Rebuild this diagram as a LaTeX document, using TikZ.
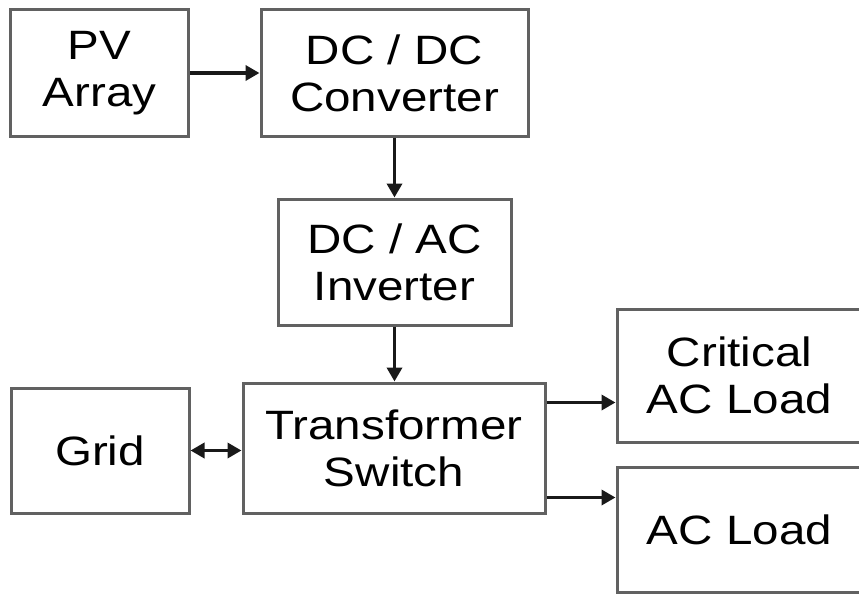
\documentclass[tikz,border=0pt]{standalone}
\usepackage{fontspec}
\setmainfont[FakeStretch=1.16]{Liberation Sans}
\usetikzlibrary{arrows.meta}
\begin{document}
\begin{tikzpicture}[x=1pt,y=-1pt,
  blk/.style={draw=black!62,line width=3pt,fill=white,inner sep=0pt,align=center,
    font=\fontsize{41}{47}\selectfont},
  arr/.style={draw=black!90,line width=3.5pt,-{Triangle[length=14pt,width=15pt]}},
  darr/.style={draw=black!90,line width=3.5pt,{Triangle[length=14pt,width=15pt]}-{Triangle[length=14pt,width=15pt]}}]
\useasboundingbox (0,0) rectangle (859,594);
\node[blk,minimum width=178pt,minimum height=126pt] (pv) at (99.5,73) {PV\\Array};
\node[blk,minimum width=267pt,minimum height=126pt] (dcdc) at (394.5,73) {DC / DC\\Converter};
\node[blk,minimum width=233pt,minimum height=126pt] (inv) at (394.5,262) {DC / AC\\Inverter};
\node[blk,minimum width=302pt,minimum height=130pt] (trans) at (394,448) {Transformer\\Switch};
\node[blk,minimum width=178pt,minimum height=125pt] (grid) at (100,450.5) {Grid};
\node[blk,minimum width=245pt,minimum height=133pt,text width=245pt] (crit) at (739.5,375.5) {Critical\\AC Load};
\node[blk,minimum width=245pt,minimum height=125pt,text width=245pt] (acl) at (739.5,529.5) {AC Load};
\draw[arr] (pv.east) -- (dcdc.west);
\draw[arr] (dcdc.south) -- (inv.north);
\draw[arr] (inv.south) -- (inv.south |- trans.north);
\draw[darr] (grid.east) -- (grid.east -| trans.west);
\path (trans.north east) ++(0,21) coordinate (t1);
\path (trans.north east) ++(0,116) coordinate (t2);
\draw[arr] (t1) -- (t1 -| crit.west);
\draw[arr] (t2) -- (t2 -| acl.west);
\end{tikzpicture}
\end{document}
